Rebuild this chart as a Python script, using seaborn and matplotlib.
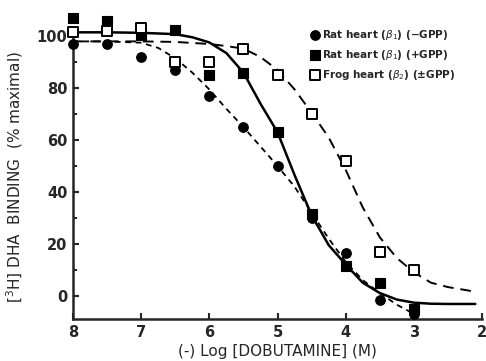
import numpy as np
import pandas as pd
import matplotlib
matplotlib.use("Agg")
import matplotlib.pyplot as plt
import seaborn as sns

# ---- data ----
dose = [8, 7.5, 7, 6.5, 6, 5.5, 5, 4.5, 4, 3.5, 3]
rat_minus = [97, 97, 92, 87, 77, 65, 50, 30, 16.5, -1.5, -7]
rat_plus = [107, 106, 100.5, 102.5, 85, 86, 63, 31.5, 11.5, 5, -5]
frog = [101.5, 102, 103, 90, 90, 95, 85, 70, 52, 17, 10]

# fitted curves
fit_minus_x = [8.0, 7.5, 7.0, 6.75, 6.5, 6.25, 6.0, 5.75, 5.5, 5.25, 5.0, 4.75, 4.5, 4.25, 4.0, 3.75, 3.5, 3.25, 3.0]
fit_minus_y = [98, 98, 97.5, 95.5, 91.5, 86, 79.5, 72, 65, 57.5, 50, 42, 32, 22, 13, 6, 1, -3.5, -7]

fit_plus_x = [8.0, 7.5, 7.0, 6.5, 6.25, 6.0, 5.75, 5.5, 5.25, 5.0, 4.75, 4.5, 4.25, 4.0, 3.75, 3.5, 3.25, 3.0, 2.75, 2.5, 2.1]
fit_plus_y = [101.5, 101.5, 101.3, 100.8, 99.6, 97.6, 93.5, 86, 74, 63, 46.5, 31, 19.5, 12, 5, 1, -1.5, -2.7, -3.1, -3.2, -3.2]

fit_frog_x = [8.0, 7.0, 6.5, 6.0, 5.75, 5.5, 5.25, 5.0, 4.75, 4.5, 4.25, 4.0, 3.75, 3.5, 3.25, 3.0, 2.75, 2.5, 2.25, 2.1]
fit_frog_y = [98, 98, 97.8, 97, 96.2, 95.2, 92, 87, 79.5, 70.5, 61, 48.5, 34, 22.5, 14.5, 9, 5, 3.3, 2.2, 1.5]

labels = [r"Rat heart ($\beta_1$) (−GPP)",
          r"Rat heart ($\beta_1$) (+GPP)",
          r"Frog heart ($\beta_2$) (±GPP)"]
xticks = [8, 7, 6, 5, 4, 3, 2]
yticks = [0, 20, 40, 60, 80, 100]

sns.set_style("ticks")
plt.rcParams["font.family"] = ["DejaVu Sans"]
plt.rcParams["mathtext.fontset"] = "dejavusans"

fig = plt.figure(figsize=(4.86, 3.61), dpi=100)
ax = fig.add_axes([0.150, 0.1163, 0.842, 0.787])

df_minus = pd.DataFrame({"x": fit_minus_x, "y": fit_minus_y})
df_plus = pd.DataFrame({"x": fit_plus_x, "y": fit_plus_y})
df_frog = pd.DataFrame({"x": fit_frog_x, "y": fit_frog_y})

sns.lineplot(data=df_minus, x="x", y="y", ax=ax, color="black", lw=1.3, sort=False)
ax.lines[-1].set_dashes([3.2, 2.6])
sns.lineplot(data=df_plus, x="x", y="y", ax=ax, color="black", lw=1.8, sort=False)
sns.lineplot(data=df_frog, x="x", y="y", ax=ax, color="black", lw=1.4, sort=False)
ax.lines[-1].set_dashes([5.5, 3.5])
for ln in ax.lines:
    ln.set_clip_on(False)

pts = pd.DataFrame({"x": dose * 3,
                    "y": rat_minus + rat_plus + frog,
                    "series": [labels[0]] * len(dose) + [labels[1]] * len(dose) + [labels[2]] * len(dose)})
sns.scatterplot(data=pts[pts.series == labels[0]], x="x", y="y", ax=ax, marker="o", s=48,
                color="black", edgecolor="black", linewidth=0.8, clip_on=False, zorder=5, label=labels[0])
sns.scatterplot(data=pts[pts.series == labels[1]], x="x", y="y", ax=ax, marker="s", s=44,
                color="black", edgecolor="black", linewidth=0.8, clip_on=False, zorder=5, label=labels[1])
sns.scatterplot(data=pts[pts.series == labels[2]], x="x", y="y", ax=ax, marker="s", s=44,
                color="white", edgecolor="black", linewidth=1.4, clip_on=False, zorder=6, label=labels[2])

ax.set_xlim(8, 2)
ax.set_ylim(-9, 100.5)
ax.set_xticks(xticks)
ax.set_xticklabels([str(t) for t in xticks], fontsize=10.5, fontweight="bold")
ax.set_yticks(yticks)
ax.set_yticklabels([str(t) for t in yticks], fontsize=10.5, fontweight="bold")
ax.set_yticks([10, 30, 50, 70, 90], minor=True)
ax.tick_params(axis="both", which="major", direction="in", length=4, width=1.5, pad=4)
ax.tick_params(axis="y", which="minor", direction="in", length=3, width=1.5)
for side in ["top", "right"]:
    ax.spines[side].set_visible(False)
for side in ["left", "bottom"]:
    ax.spines[side].set_linewidth(1.8)

ax.set_xlabel("(-) Log [DOBUTAMINE] (M)", fontsize=11, labelpad=3)
ax.set_ylabel(r"[$^3$H] DHA  BINDING  (% maximal)", fontsize=11, labelpad=8)

leg = ax.legend(loc="upper left", bbox_to_anchor=(0.565, 1.04), frameon=False,
                prop={"size": 7.5, "weight": "bold"}, handletextpad=0.15,
                labelspacing=0.6, borderaxespad=0, handlelength=1.2)

fig.savefig("out.png", dpi=100)
